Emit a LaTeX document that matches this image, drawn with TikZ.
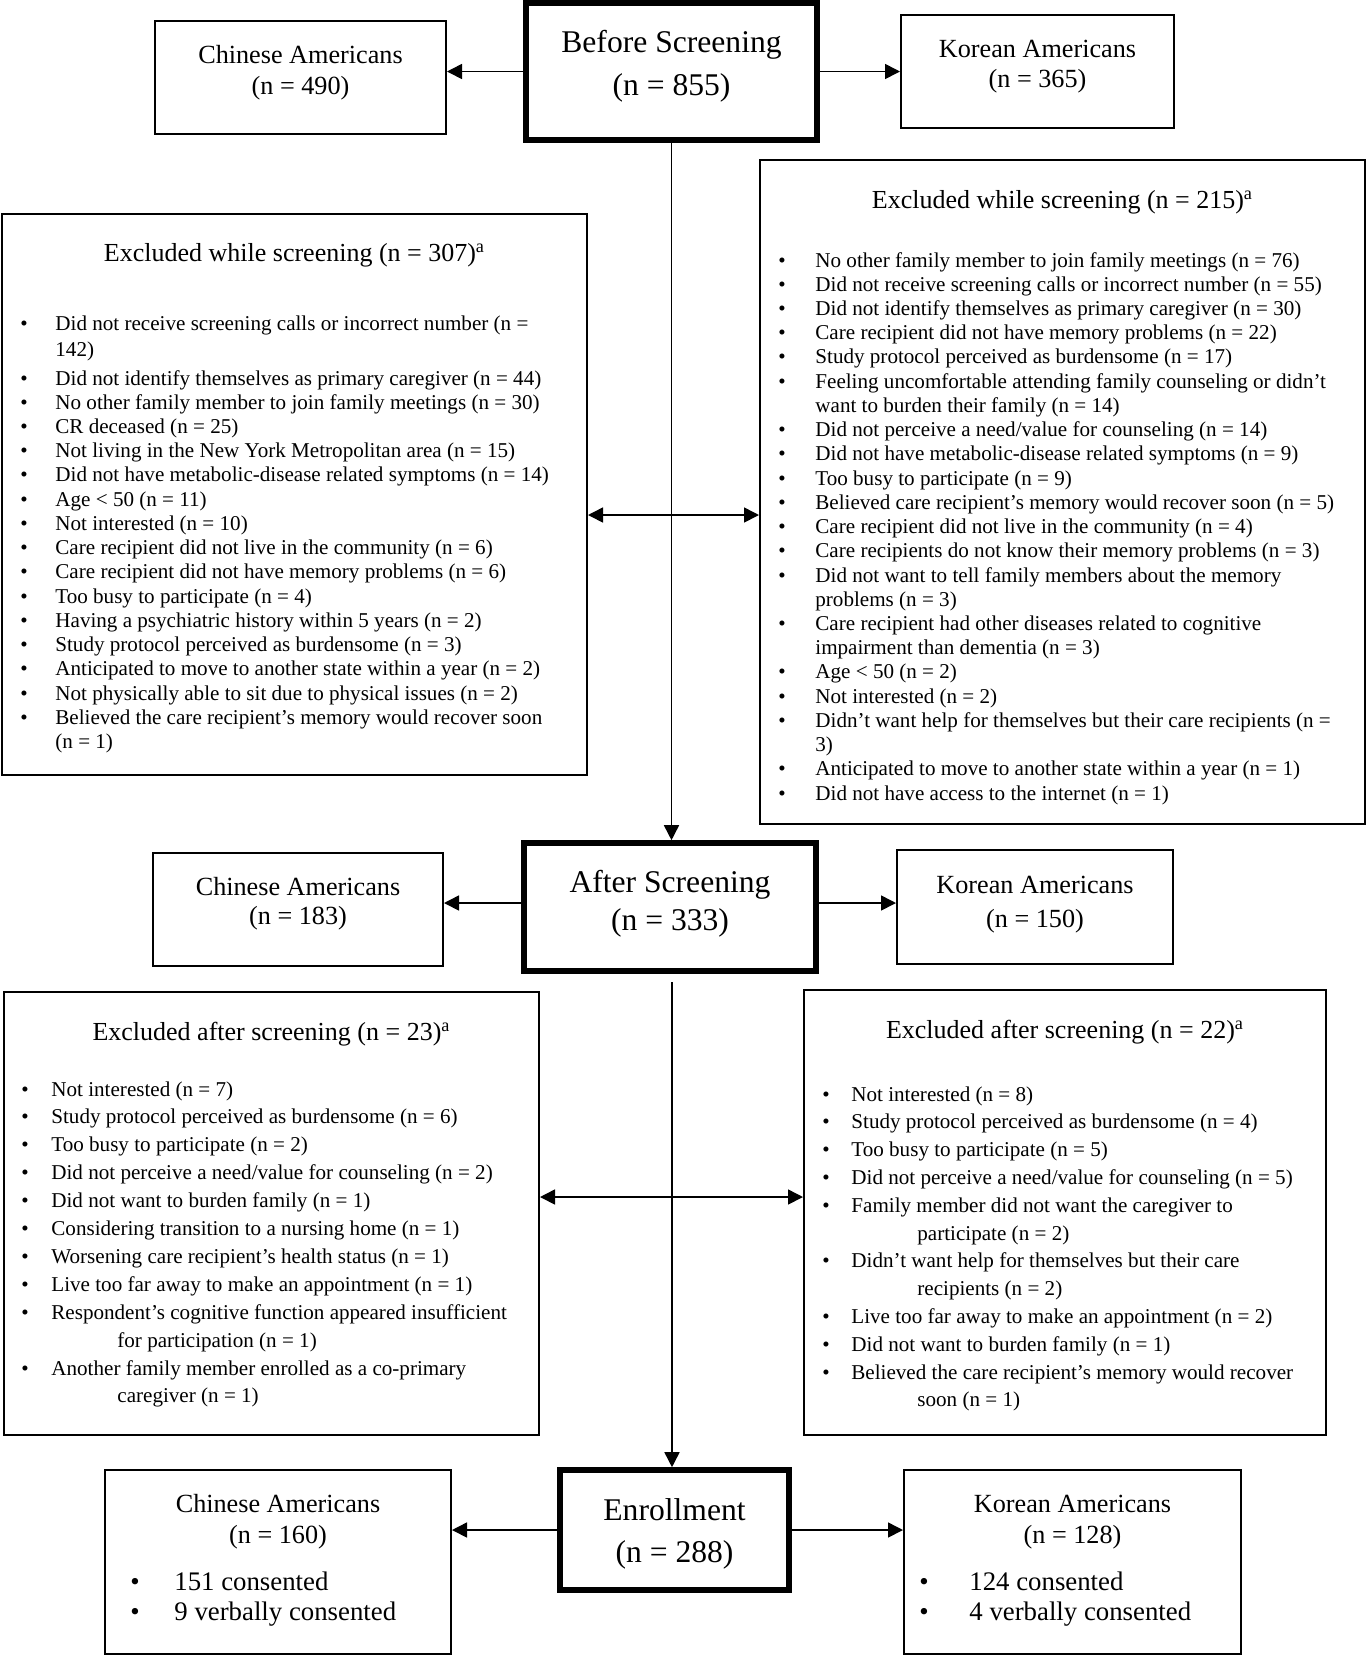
\documentclass[tikz,border=0pt]{standalone}
\usepackage{fontspec}
\setmainfont{Liberation Serif}
\usetikzlibrary{arrows.meta}
\tikzset{
 box/.style={draw, line width=1pt, inner sep=0pt, fill=white},
 tbox/.style={draw, line width=2.8pt, inner sep=0pt, fill=white},
 sz/.style n args={2}{minimum width=#1*0.5pt, minimum height=#2*0.5pt},
 big/.style={inner sep=0pt, anchor=base, font=\fontsize{15.8}{19}\selectfont},
 lbl/.style={inner sep=0pt, anchor=base, font=\fontsize{13.1}{16}\selectfont},
 ttl/.style={inner sep=0pt, anchor=base, font=\fontsize{13}{16}\selectfont},
 itm/.style={inner sep=0pt, anchor=base west, font=\fontsize{10.55}{12}\selectfont},
 bul/.style={inner sep=0pt, anchor=base, font=\fontsize{10.55}{12}\selectfont},
 subt/.style={inner sep=0pt, anchor=base west, font=\fontsize{13.4}{16}\selectfont},
 subb/.style={inner sep=0pt, anchor=base, font=\fontsize{13.4}{16}\selectfont},
 arr/.style={line width=0.8pt, -{Triangle[length=7.5pt,width=7.5pt]}},
 arrb/.style={line width=0.8pt, {Triangle[length=7.5pt,width=7.5pt]}-{Triangle[length=7.5pt,width=7.5pt]}},
}
% #1 name, #2 bullet x, #3 text x, #4 continuation x, #5 first baseline, #6 line step, #7 list
\newcommand\blist[7]{%
 \foreach \kk/\txt [count=\ii] in {#7}{%
   \pgfmathsetmacro\yy{#5+(\ii-1)*#6}%
   \ifnum\kk=2
     \node[itm] (#1\ii) at (#4,\yy) {\txt};
   \else
     \node[itm] (#1\ii) at (#3,\yy) {\txt};
   \fi
   \ifnum\kk=1
     \node[bul] (#1b\ii) at (#2,\yy) {\textbullet};
   \fi
 }}
\begin{document}
\begin{tikzpicture}[x=0.5pt,y=-0.5pt]
\path[use as bounding box, fill=white] (0,0) rectangle (1367,1656);

% ---------- top row ----------
\node[box, sz={291}{113}] (cn1) at (300.5,77.5) {};
\node[tbox, sz={291}{137}] (bs) at (671.5,71.5) {};
\node[box, sz={273}{113}] (kr1) at (1037.5,71.5) {};
\node[lbl] (cn1a) at (300.5,63) {Chinese Americans};
\node[lbl] (cn1b) at (300.5,94) {(n = 490)};
\node[big] (bsa) at (671.5,52) {Before Screening};
\node[big] (bsb) at (671.5,95) {(n = 855)};
\node[lbl] (kr1a) at (1037.5,57) {Korean Americans};
\node[lbl] (kr1b) at (1037.5,87) {(n = 365)};

% ---------- excluded while screening ----------
\node[box, sz={585}{561}] (exl) at (294.5,494.5) {};
\node[box, sz={605}{664}] (exr) at (1062.5,492) {};
\node[ttl] (exlt) at (294.5,261) {Excluded while screening (n = 307)\textsuperscript{a}};
\node[ttl] (exrt) at (1062.5,208) {Excluded while screening (n = 215)\textsuperscript{a}};

\blist{exlA}{24}{55}{55}{330}{26}{%
1/{Did not receive screening calls or incorrect number (n =},
0/{142)}}
\blist{exlB}{24}{55}{55}{385}{24.24}{%
1/{Did not identify themselves as primary caregiver (n = 44)},
1/{No other family member to join family meetings (n = 30)},
1/{CR deceased (n = 25)},
1/{Not living in the New York Metropolitan area (n = 15)},
1/{Did not have metabolic-disease related symptoms (n = 14)},
1/{Age < 50 (n = 11)},
1/{Not interested (n = 10)},
1/{Care recipient did not live in the community (n = 6)},
1/{Care recipient did not have memory problems (n = 6)},
1/{Too busy to participate (n = 4)},
1/{Having a psychiatric history within 5 years (n = 2)},
1/{Study protocol perceived as burdensome (n = 3)},
1/{Anticipated to move to another state within a year (n = 2)},
1/{Not physically able to sit due to physical issues (n = 2)},
1/{Believed the care recipient’s memory would recover soon},
0/{(n = 1)}}

\blist{exr}{782}{815}{815}{267}{24.23}{%
1/{No other family member to join family meetings (n = 76)},
1/{Did not receive screening calls or incorrect number (n = 55)},
1/{Did not identify themselves as primary caregiver (n = 30)},
1/{Care recipient did not have memory problems (n = 22)},
1/{Study protocol perceived as burdensome (n = 17)},
1/{Feeling uncomfortable attending family counseling or didn’t},
0/{want to burden their family (n = 14)},
1/{Did not perceive a need/value for counseling (n = 14)},
1/{Did not have metabolic-disease related symptoms (n = 9)},
1/{Too busy to participate (n = 9)},
1/{Believed care recipient’s memory would recover soon (n = 5)},
1/{Care recipient did not live in the community (n = 4)},
1/{Care recipients do not know their memory problems (n = 3)},
1/{Did not want to tell family members about the memory},
0/{problems (n = 3)},
1/{Care recipient had other diseases related to cognitive},
0/{impairment than dementia (n = 3)},
1/{Age < 50 (n = 2)},
1/{Not interested (n = 2)},
1/{Didn’t want help for themselves but their care recipients (n =},
0/{3)},
1/{Anticipated to move to another state within a year (n = 1)},
1/{Did not have access to the internet (n = 1)}}

% ---------- after screening row ----------
\node[box, sz={290}{113}] (cn2) at (298,909.5) {};
\node[tbox, sz={292}{128}] (as) at (670,907) {};
\node[box, sz={276}{114}] (kr2) at (1035,907) {};
\node[lbl] (cn2a) at (298,895) {Chinese Americans};
\node[lbl] (cn2b) at (298,924) {(n = 183)};
\node[big] (asa) at (670,892) {After Screening};
\node[big] (asb) at (670,930) {(n = 333)};
\node[lbl] (kr2a) at (1035,893) {Korean Americans};
\node[lbl] (kr2b) at (1035,927) {(n = 150)};

% ---------- excluded after screening ----------
\node[box, sz={535}{443}] (axl) at (271.5,1213.5) {};
\node[box, sz={522}{445}] (axr) at (1065,1212.5) {};
\node[ttl] (axlt) at (271.5,1040) {Excluded after screening (n = 23)\textsuperscript{a}};
\node[ttl] (axrt) at (1065,1038) {Excluded after screening (n = 22)\textsuperscript{a}};

\blist{axl}{25}{51}{117}{1096}{27.9}{%
1/{Not interested (n = 7)},
1/{Study protocol perceived as burdensome (n = 6)},
1/{Too busy to participate (n = 2)},
1/{Did not perceive a need/value for counseling (n = 2)},
1/{Did not want to burden family (n = 1)},
1/{Considering transition to a nursing home (n = 1)},
1/{Worsening care recipient’s health status (n = 1)},
1/{Live too far away to make an appointment (n = 1)},
1/{Respondent’s cognitive function appeared insufficient},
2/{for participation (n = 1)},
1/{Another family member enrolled as a co-primary},
2/{caregiver (n = 1)}}

\blist{axr}{826}{851}{917}{1101}{27.8}{%
1/{Not interested (n = 8)},
1/{Study protocol perceived as burdensome (n = 4)},
1/{Too busy to participate (n = 5)},
1/{Did not perceive a need/value for counseling (n = 5)},
1/{Family member did not want the caregiver to},
2/{participate (n = 2)},
1/{Didn’t want help for themselves but their care},
2/{recipients (n = 2)},
1/{Live too far away to make an appointment (n = 2)},
1/{Did not want to burden family (n = 1)},
1/{Believed the care recipient’s memory would recover},
2/{soon (n = 1)}}

% ---------- enrollment row ----------
\node[box, sz={346}{184}] (cn3) at (278,1562) {};
\node[tbox, sz={229}{120}] (en) at (674.5,1530) {};
\node[box, sz={337}{184}] (kr3) at (1072.5,1562) {};
\node[lbl] (cn3a) at (278,1512) {Chinese Americans};
\node[lbl] (cn3b) at (278,1543) {(n = 160)};
\node[subb] (cn3p) at (135,1590) {\textbullet};
\node[subt] (cn3c) at (174,1590) {151 consented};
\node[subb] (cn3q) at (135,1620) {\textbullet};
\node[subt] (cn3d) at (174,1620) {9 verbally consented};
\node[big] (ena) at (674.5,1520) {Enrollment};
\node[big] (enb) at (674.5,1562) {(n = 288)};
\node[lbl] (kr3a) at (1072.5,1512) {Korean Americans};
\node[lbl] (kr3b) at (1072.5,1543) {(n = 128)};
\node[subb] (kr3p) at (924,1590) {\textbullet};
\node[subt] (kr3c) at (969,1590) {124 consented};
\node[subb] (kr3q) at (924,1620) {\textbullet};
\node[subt] (kr3d) at (969,1620) {4 verbally consented};

% ---------- connectors ----------
\coordinate (m1) at (672,515);
\coordinate (m2) at (672,903);
\coordinate (g1) at (672,982);
\coordinate (m3) at (672,1197);
\draw[arr] (bs.west) -- (bs.west -| cn1.east);
\draw[arr] (bs.east) -- (bs.east -| kr1.west);
\draw[arr] (bs.south) -- (bs.south |- as.north);
\draw[arrb] (m1 -| exl.east) -- (m1 -| exr.west);
\draw[arr] (m2 -| as.west) -- (m2 -| cn2.east);
\draw[arr] (m2 -| as.east) -- (m2 -| kr2.west);
\draw[arr] (g1) -- (g1 |- en.north);
\draw[arrb] (m3 -| axl.east) -- (m3 -| axr.west);
\draw[arr] (en.west) -- (en.west -| cn3.east);
\draw[arr] (en.east) -- (en.east -| kr3.west);
\end{tikzpicture}
\end{document}
